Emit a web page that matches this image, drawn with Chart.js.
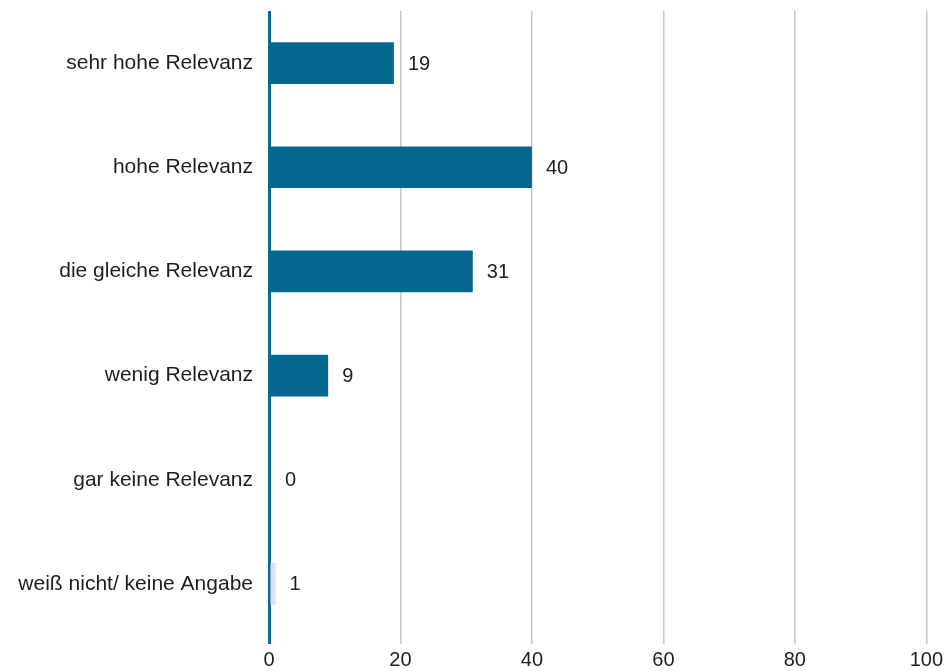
<!DOCTYPE html>
<html>
<head>
<meta charset="utf-8">
<script src="https://cdn.jsdelivr.net/npm/chart.js@4"></script>
<style>
  html, body { margin: 0; padding: 0; background: #ffffff; }
  #wrap { width: 947px; height: 671px; position: relative; }
</style>
</head>
<body>
<div id="wrap"><canvas id="chart"></canvas></div>
<script>
// Antworten zur Relevanz (Anteile in Prozent)
const categories = [
  'sehr hohe Relevanz',
  'hohe Relevanz',
  'die gleiche Relevanz',
  'wenig Relevanz',
  'gar keine Relevanz',
  'weiß nicht/ keine Angabe'
];
const values = [19, 40, 31, 9, 0, 1];
const barColors = ['#04678e', '#04678e', '#04678e', '#04678e', '#04678e', '#dde3f2'];
const xTicks = [0, 20, 40, 60, 80, 100];

const FONT = "'Liberation Sans', Arial, sans-serif";
const TEXT = '#1e1e1e';

// Wert rechts neben jedem Balken ausgeben
const valueLabels = {
  id: 'valueLabels',
  afterDatasetsDraw(chart) {
    const ctx = chart.ctx;
    const meta = chart.getDatasetMeta(0);
    ctx.save();
    ctx.font = '20px ' + FONT;
    ctx.fillStyle = TEXT;
    ctx.textAlign = 'left';
    ctx.textBaseline = 'middle';
    meta.data.forEach((bar, i) => {
      const x = Math.max(bar.x, chart.chartArea.left + 2) + 14;
      ctx.fillText(String(values[i]), x, bar.y + 1);
    });
    ctx.restore();
  }
};

new Chart(document.getElementById('chart'), {
  type: 'bar',
  data: {
    labels: categories,
    datasets: [{
      data: values,
      backgroundColor: barColors,
      borderWidth: 0,
      barPercentage: 0.4,
      categoryPercentage: 1.0
    }]
  },
  options: {
    indexAxis: 'y',
    responsive: true,
    maintainAspectRatio: false,
    animation: false,
    layout: { padding: { top: 11, right: 4, left: 0, bottom: 0 } },
    plugins: {
      legend: { display: false },
      tooltip: { enabled: false }
    },
    scales: {
      x: {
        min: 0,
        max: 100,
        afterBuildTicks(scale) {
          scale.ticks = xTicks.map(v => ({ value: v }));
        },
        afterFit(scale) { scale.height = 35; },
        border: { display: false },
        grid: {
          color: ctx => ctx.index === 0 ? '#0f6890' : '#c6c6c6',
          lineWidth: ctx => ctx.index === 0 ? 3 : 1.5,
          tickLength: 8,
          drawTicks: true
        },
        ticks: {
          color: TEXT,
          font: { family: FONT, size: 20 },
          padding: 4,
          maxRotation: 0
        }
      },
      y: {
        border: { display: false },
        grid: { display: false, drawTicks: false },
        afterFit(scale) {
          scale.width = 269;
          scale.paddingTop = 0;
          scale.paddingBottom = 0;
        },
        ticks: {
          color: TEXT,
          font: { family: FONT, size: 21 },
          padding: 16
        }
      }
    }
  },
  plugins: [valueLabels]
});
</script>
</body>
</html>
